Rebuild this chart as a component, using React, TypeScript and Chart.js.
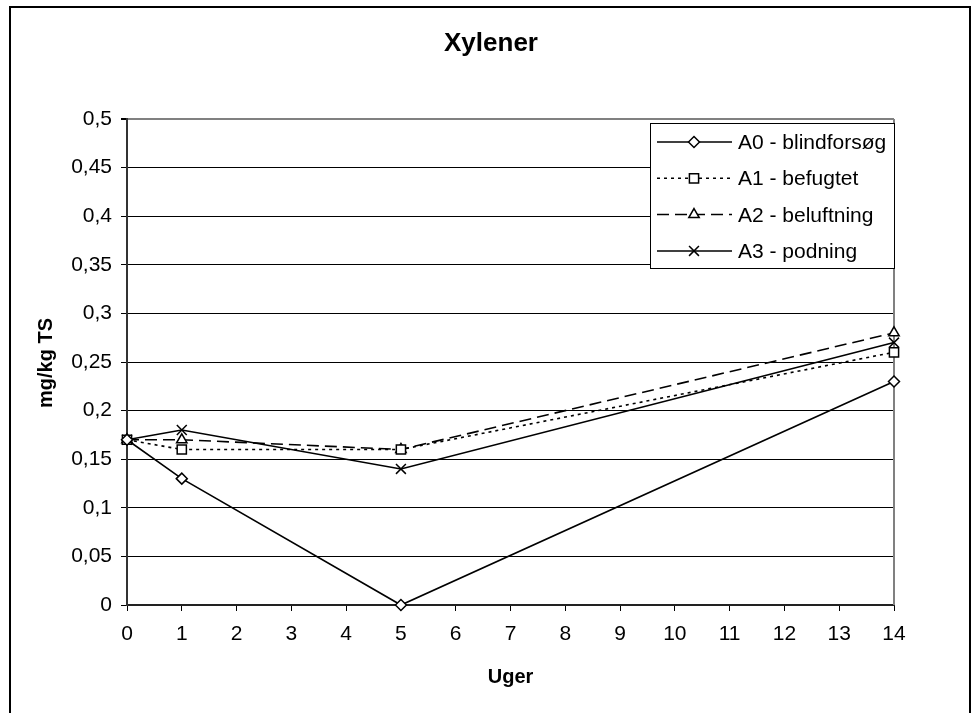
import { useEffect, useRef } from 'react';
import { Chart, registerables } from 'chart.js';
import { drawPoint } from 'chart.js/helpers';

Chart.register(...registerables);

// Measurement weeks and series values (mg/kg TS)
const weeks = [0, 1, 5, 14];
const seriesNames = ['A0 - blindforsøg', 'A1 - befugtet', 'A2 - beluftning', 'A3 - podning'];
const a0 = [0.17, 0.13, 0, 0.23];
const a1 = [0.17, 0.16, 0.16, 0.26];
const a2 = [0.17, 0.17, 0.16, 0.28];
const a3 = [0.17, 0.18, 0.14, 0.27];
const chartTitle = 'Xylener';
const xTitle = 'Uger';
const yTitle = 'mg/kg TS';

const FONT = '"Liberation Sans", Arial, sans-serif';

// Line / marker appearance per series
const styles = [
  { pointStyle: 'rectRot', radius: 5.5, dash: [] as number[] },
  { pointStyle: 'rect', radius: 6.5, dash: [3, 4] },
  { pointStyle: 'triangle', radius: 6, dash: [12, 6] },
  { pointStyle: 'crossRot', radius: 7, dash: [] as number[] },
];

const seriesValues = [a0, a1, a2, a3];

const fmt = (v: number) => String(Number(v.toFixed(2))).replace('.', ',');

// Outer frame, title, axis titles and the plot-area right edge
const decorPlugin = {
  id: 'decor',
  beforeDatasetsDraw(chart: any) {
    const { ctx, chartArea } = chart;
    ctx.save();
    ctx.strokeStyle = '#808080';
    ctx.lineWidth = 2;
    ctx.beginPath();
    ctx.moveTo(chartArea.right, chartArea.top);
    ctx.lineTo(chartArea.right, chartArea.bottom);
    ctx.stroke();
    ctx.restore();
  },
  afterDraw(chart: any) {
    const { ctx, chartArea } = chart;
    ctx.save();
    // frame
    ctx.strokeStyle = '#000';
    ctx.lineWidth = 2;
    ctx.beginPath();
    ctx.moveTo(10, 720);
    ctx.lineTo(10, 7);
    ctx.lineTo(970, 7);
    ctx.lineTo(970, 720);
    ctx.stroke();

    ctx.fillStyle = '#000';
    ctx.textAlign = 'center';
    ctx.textBaseline = 'alphabetic';
    ctx.font = `bold 26px ${FONT}`;
    ctx.fillText(chartTitle, 491, 51);

    ctx.font = `bold 20px ${FONT}`;
    ctx.fillText(xTitle, (chartArea.left + chartArea.right) / 2, 683);

    ctx.translate(52, (chartArea.top + chartArea.bottom) / 2 + 1);
    ctx.rotate(-Math.PI / 2);
    ctx.fillText(yTitle, 0, 0);
    ctx.restore();
  },
};

// Boxed legend in the upper right of the plot area
const legendPlugin = {
  id: 'boxLegend',
  afterDatasetsDraw(chart: any) {
    const { ctx, chartArea } = chart;
    const w = 244;
    const h = 145;
    const left = chartArea.right - w;
    const top = chartArea.top + 4;
    ctx.save();
    ctx.fillStyle = '#fff';
    ctx.fillRect(left, top, w, h);
    ctx.strokeStyle = '#000';
    ctx.lineWidth = 1;
    ctx.strokeRect(left + 0.5, top + 0.5, w, h);

    seriesNames.forEach((name, i) => {
      const st = styles[i];
      const y = top + 19 + i * 36.3;
      ctx.strokeStyle = '#000';
      ctx.lineWidth = 1.5;
      ctx.setLineDash(st.dash);
      ctx.beginPath();
      ctx.moveTo(left + 7, y);
      ctx.lineTo(left + 82, y);
      ctx.stroke();
      ctx.setLineDash([]);
      ctx.fillStyle = '#fff';
      ctx.lineWidth = 1.5;
      drawPoint(ctx, { pointStyle: st.pointStyle, radius: st.radius, rotation: 0, borderWidth: 1.5 } as any, left + 44, y);
      ctx.fillStyle = '#000';
      ctx.font = `21px ${FONT}`;
      ctx.textAlign = 'left';
      ctx.textBaseline = 'alphabetic';
      ctx.fillText(name, left + 88, y + 7);
    });
    ctx.restore();
  },
};

export default function App() {
  const canvasRef = useRef<HTMLCanvasElement | null>(null);

  useEffect(() => {
    const canvas = canvasRef.current;
    if (!canvas) return;
    const chart = new Chart(canvas, {
      type: 'line',
      data: {
        datasets: seriesNames.map((name, i) => ({
          label: name,
          data: weeks.map((w, j) => ({ x: w, y: seriesValues[i][j] })),
          borderColor: '#000',
          borderWidth: 1.6,
          borderDash: styles[i].dash,
          pointStyle: styles[i].pointStyle as any,
          pointRadius: styles[i].radius,
          pointBackgroundColor: '#fff',
          pointBorderColor: '#000',
          pointBorderWidth: 1.5,
          tension: 0,
          clip: false as any,
        })),
      },
      plugins: [decorPlugin, legendPlugin],
      options: {
        responsive: false,
        animation: false,
        layout: { padding: { top: 119, left: 10, right: 78, bottom: 0 } },
        plugins: {
          legend: { display: false },
          title: { display: false },
          tooltip: { enabled: false },
        },
        scales: {
          x: {
            type: 'linear',
            min: 0,
            max: 14,
            afterFit: (s: any) => {
              s.height = 108;
            },
            ticks: {
              stepSize: 1,
              autoSkip: false,
              maxRotation: 0,
              padding: 11,
              color: '#000',
              font: { family: FONT, size: 21 },
            },
            grid: {
              drawOnChartArea: false,
              drawTicks: true,
              tickLength: 6,
              color: '#000',
            },
            border: { display: true, color: '#222', width: 2 },
          },
          y: {
            min: 0,
            max: 0.5,
            afterFit: (s: any) => {
              s.width = 117;
            },
            ticks: {
              stepSize: 0.05,
              padding: 9,
              color: '#000',
              font: { family: FONT, size: 21 },
              callback: (v: any) => fmt(Number(v)),
            },
            grid: {
              color: (c: any) => (c.tick && Math.abs(c.tick.value - 0.5) < 1e-6 ? '#808080' : '#000'),
              lineWidth: (c: any) => (c.tick && Math.abs(c.tick.value - 0.5) < 1e-6 ? 2 : 1),
              tickColor: '#000',
              tickLength: 6,
            },
            border: { display: true, color: '#333', width: 2 },
          },
        },
      },
    });
    return () => chart.destroy();
  }, []);

  return (
    <div style={{ position: 'absolute', left: 0, top: 0, width: 972, height: 713, background: '#fff' }}>
      <canvas ref={canvasRef} width={972} height={713} />
    </div>
  );
}
